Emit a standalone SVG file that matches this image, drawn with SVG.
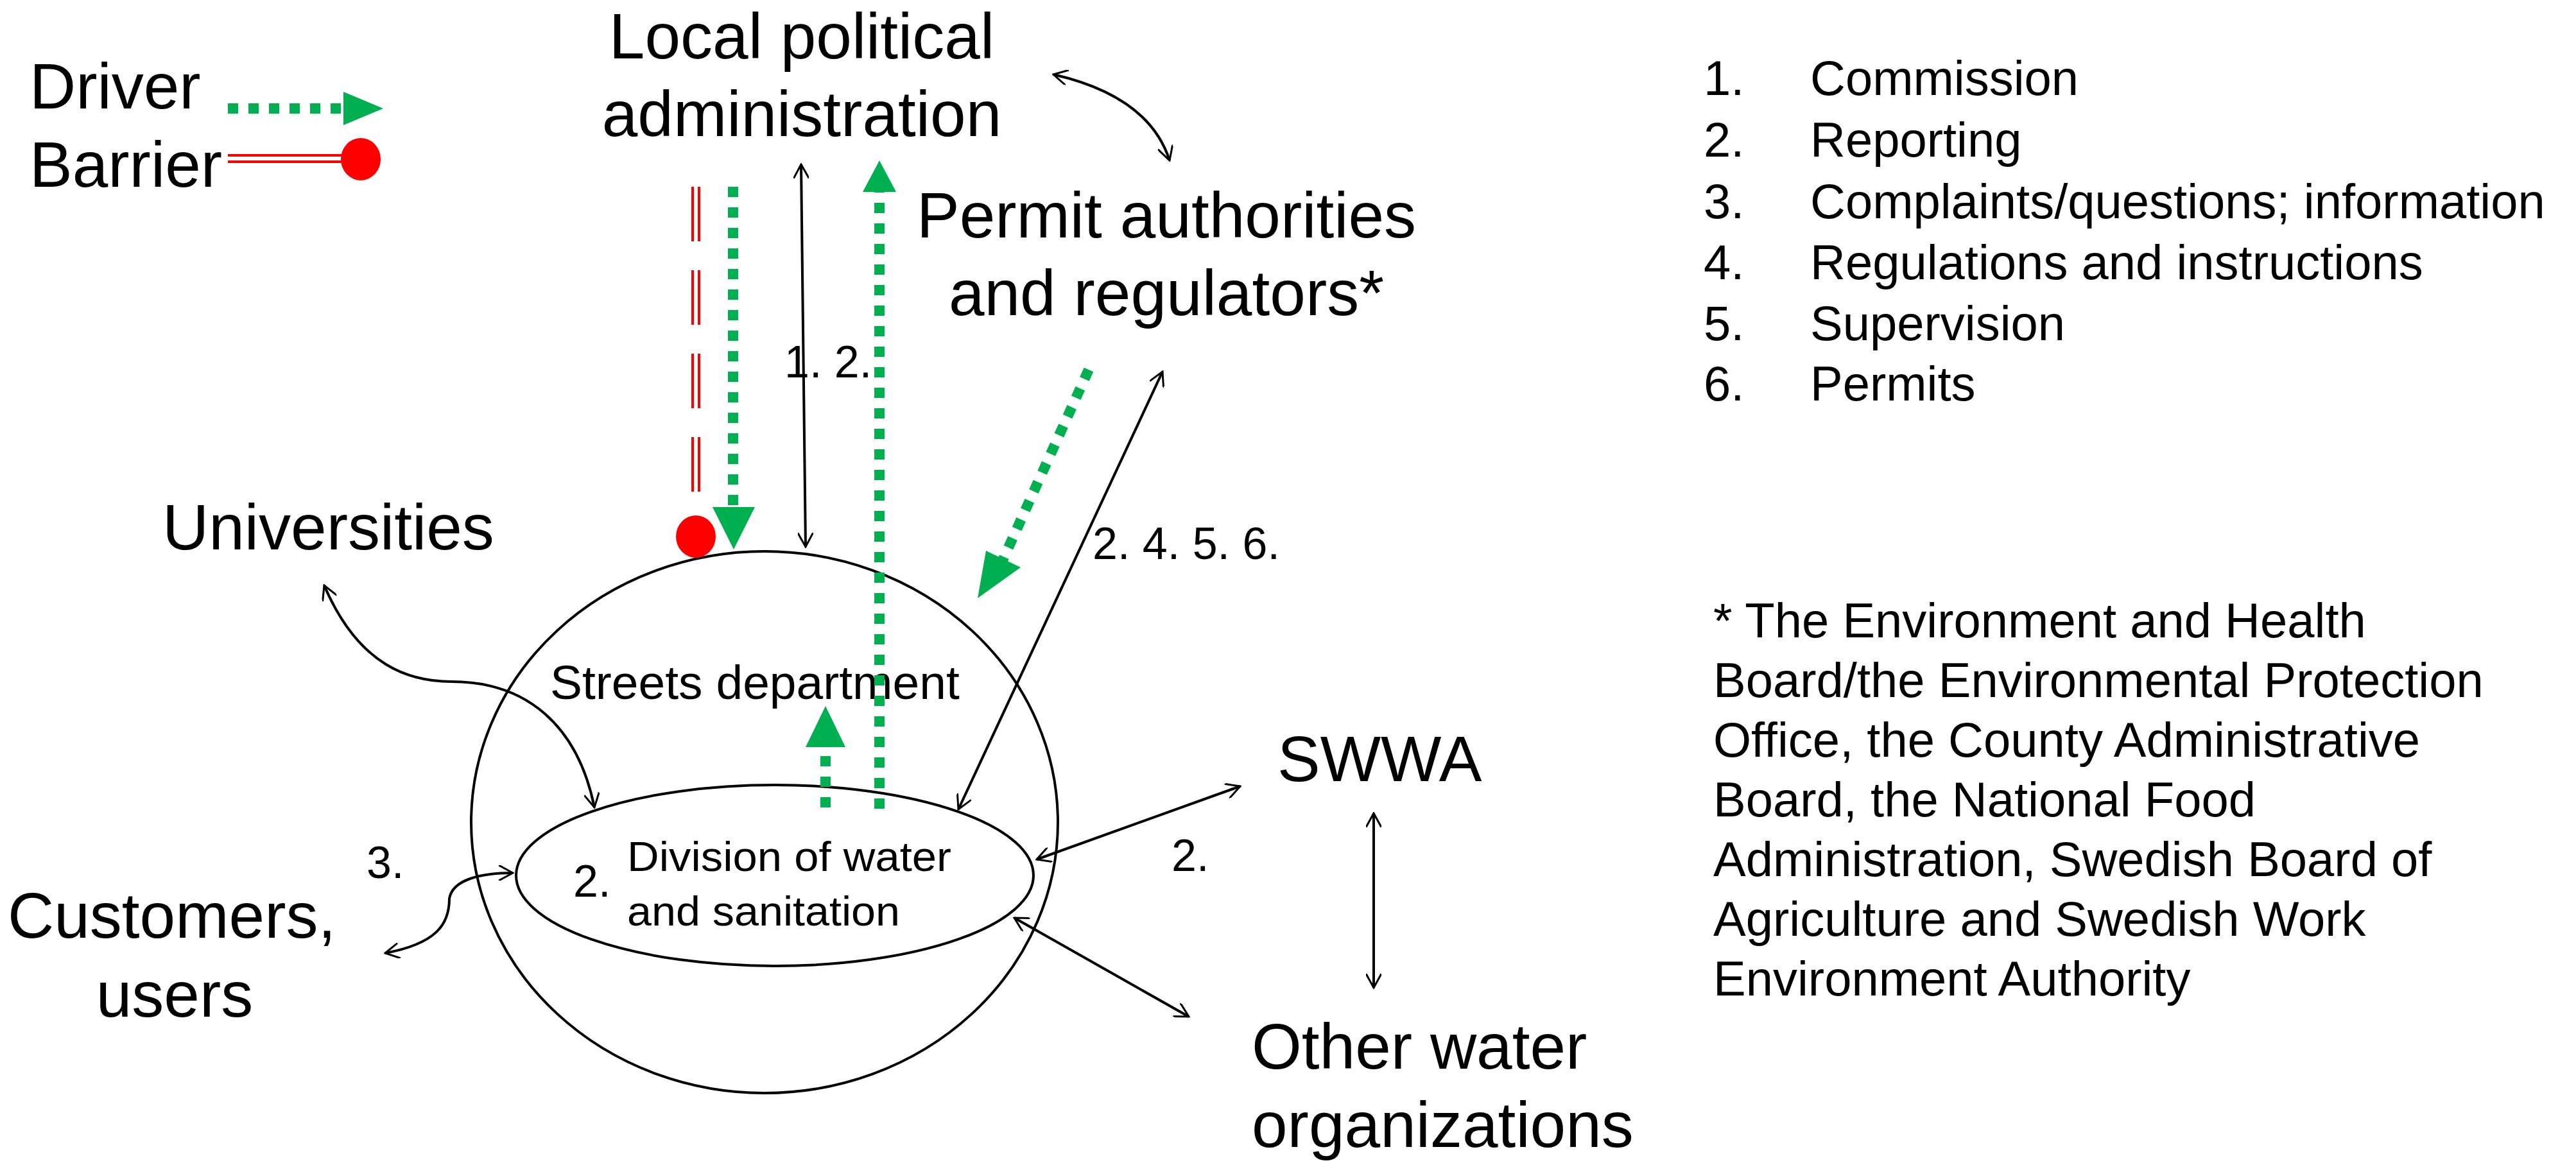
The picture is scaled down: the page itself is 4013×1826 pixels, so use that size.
<svg xmlns="http://www.w3.org/2000/svg" width="4013" height="1826" viewBox="0 0 4013 1826">
<style>
text{font-family:"Liberation Sans",Arial,sans-serif;fill:#000}
.big{font-size:100px}
.mid{font-size:76px}
.lab{font-size:70px}
.conn{fill:none;stroke:#000;stroke-width:4;marker-start:url(#ah);marker-end:url(#ah)}
.drv{stroke:#00B050;stroke-width:16;stroke-dasharray:16 16;fill:none}
.head{fill:#00B050}
.bar{stroke:#FF0000;stroke-width:4;fill:none}
</style>
<defs>
<marker id="ah" viewBox="0 0 24 24" refX="22" refY="12" markerWidth="24" markerHeight="24" orient="auto-start-reverse" markerUnits="userSpaceOnUse">
<path d="M0 0 L22 12 L0 24" fill="none" stroke="#000" stroke-width="3"/>
</marker>
</defs>
<rect width="4013" height="1826" fill="#fff"/>
<g id="legend">
<text class="big" x="46" y="169">Driver</text>
<text class="big" x="46" y="291">Barrier</text>
<line class="drv" x1="355" y1="169" x2="535" y2="169"/>
<polygon class="head" points="535,143 535,195 597,169"/>
<line class="bar" x1="355" y1="242" x2="540" y2="242"/>
<line class="bar" x1="355" y1="252" x2="540" y2="252"/>
<ellipse cx="562" cy="248" rx="31" ry="33" fill="#FF0000"/>
</g>
<g id="local"><text class="big" x="1249" y="91" text-anchor="middle">Local political</text><text class="big" x="1249" y="212" text-anchor="middle">administration</text></g>
<g id="permit"><text class="big" x="1817" y="370" text-anchor="middle">Permit authorities</text><text class="big" x="1817" y="491" text-anchor="middle">and regulators*</text></g>
<g id="universities"><text class="big" x="253" y="856">Universities</text></g>
<g id="customers"><text class="big" x="12" y="1461">Customers,</text><text class="big" x="272" y="1584" text-anchor="middle">users</text></g>
<g id="swwa"><text class="big" x="1990" y="1217">SWWA</text></g>
<g id="other"><text class="big" x="1950" y="1665">Other water</text><text class="big" x="1950" y="1787">organizations</text></g>
<g id="streets"><ellipse cx="1191" cy="1281" rx="457" ry="422" fill="none" stroke="#000" stroke-width="4"/><text x="857" y="1089" font-size="75">Streets department</text></g>
<g id="division"><ellipse cx="1207" cy="1364" rx="403" ry="141" fill="none" stroke="#000" stroke-width="4"/><text x="977" y="1357" font-size="64" textLength="505" lengthAdjust="spacingAndGlyphs">Division of water</text><text x="977" y="1442" font-size="64" textLength="425" lengthAdjust="spacingAndGlyphs">and sanitation</text><text class="lab" x="893" y="1397">2.</text></g>
<g id="list">
<text class="mid" x="2654" y="148">1.</text><text class="mid" x="2820" y="148">Commission</text>
<text class="mid" x="2654" y="244">2.</text><text class="mid" x="2820" y="244">Reporting</text>
<text class="mid" x="2654" y="340">3.</text><text class="mid" x="2820" y="340">Complaints/questions; information</text>
<text class="mid" x="2654" y="435">4.</text><text class="mid" x="2820" y="435">Regulations and instructions</text>
<text class="mid" x="2654" y="530">5.</text><text class="mid" x="2820" y="530">Supervision</text>
<text class="mid" x="2654" y="624">6.</text><text class="mid" x="2820" y="624">Permits</text>
</g>
<g id="footnote">
<text class="mid" x="2669" y="993">* The Environment and Health</text>
<text class="mid" x="2669" y="1086">Board/the Environmental Protection</text>
<text class="mid" x="2669" y="1179">Office, the County Administrative</text>
<text class="mid" x="2669" y="1272">Board, the National Food</text>
<text class="mid" x="2669" y="1365">Administration, Swedish Board of</text>
<text class="mid" x="2669" y="1458">Agriculture and Swedish Work</text>
<text class="mid" x="2669" y="1551">Environment Authority</text>
</g>
<g id="connectors">
<line class="bar" x1="1079" y1="291" x2="1079" y2="810" stroke-dasharray="85 45"/>
<line class="bar" x1="1089" y1="291" x2="1089" y2="810" stroke-dasharray="85 45"/>
<ellipse cx="1084" cy="836" rx="31" ry="33" fill="#FF0000"/>
<line class="drv" x1="1142" y1="291" x2="1142" y2="792"/>
<polygon class="head" points="1110,790 1176,790 1143,856"/>
<line class="drv" x1="1370" y1="1260" x2="1370" y2="297"/>
<polygon class="head" points="1344,299 1396,299 1370,250"/>
<line class="drv" x1="1286" y1="1258" x2="1286" y2="1162"/>
<polygon class="head" points="1255,1164 1317,1164 1286,1100"/>
<line class="drv" x1="1696" y1="576" x2="1562" y2="873"/>
<polygon class="head" points="1590,884 1536,858 1523,932"/>
<path class="conn" d="M1248 256 L1255 852"/>
<path class="conn" d="M1811 579 L1493 1261"/>
<path class="conn" d="M1641 116 Q1790 150 1822 250"/>
<path class="conn" d="M505 912 C560 1040 640 1062 704 1062 C820 1062 900 1130 926 1258"/>
<path class="conn" d="M600 1485 C680 1470 700 1440 700 1400 C705 1370 750 1360 799 1360"/>
<path class="conn" d="M1615 1339 L1932 1225"/>
<path class="conn" d="M1580 1430 L1852 1584"/>
<path class="conn" d="M2140 1267 L2140 1539"/>
<text class="lab" x="1222" y="588">1. 2.</text>
<text class="lab" x="1702" y="871">2. 4. 5. 6.</text>
<text class="lab" x="571" y="1368">3.</text>
<text class="lab" x="1825" y="1357">2.</text>
</g>
</svg>
